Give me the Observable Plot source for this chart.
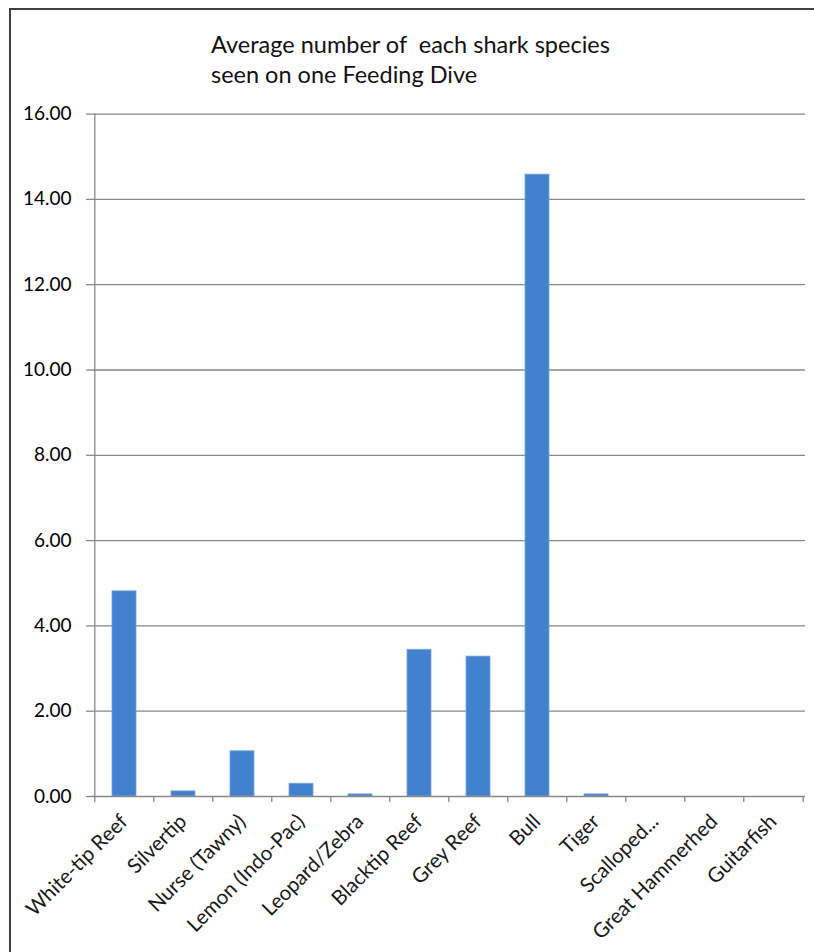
<!DOCTYPE html>
<html>
<head>
<meta charset="utf-8">
<script src="https://cdn.jsdelivr.net/npm/d3@7"></script>
<script src="https://cdn.jsdelivr.net/npm/@observablehq/plot@0.6"></script>
<style>
  html, body { margin: 0; padding: 0; background: #fff; overflow: hidden; }
  body { width: 814px; height: 952px; position: relative; font-family: Lato, "Liberation Sans", sans-serif; }
  #frame { position: absolute; left: 9px; top: 8px; width: 805px; height: 944px;
           border-left: 2px solid #404040; border-top: 2px solid #404040; box-sizing: border-box; }
  #title { position: absolute; left: 211px; top: 29px; font-size: 23.5px; line-height: 30px; color: #111; white-space: pre; }
  #chart { position: absolute; left: 0; top: 95px; }
</style>
</head>
<body>
<div id="frame"></div>
<div id="title">Average number of  each shark species
seen on one Feeding Dive</div>
<div id="chart"></div>
<script>
// Shark species counted on the feeding dives, and the average seen per dive
const species = [
  "White-tip Reef", "Silvertip", "Nurse (Tawny)", "Lemon (Indo-Pac)",
  "Leopard/Zebra", "Blacktip Reef", "Grey Reef", "Bull", "Tiger",
  "Scalloped...", "Great Hammerhed", "Guitarfish"
];
const averages = [4.81, 0.12, 1.06, 0.30, 0.05, 3.44, 3.28, 14.58, 0.05, 0, 0, 0];
const yTicks = [0, 2, 4, 6, 8, 10, 12, 14, 16];

const rows = species.map((s, i) => ({species: s, avg: averages[i]}));

const width = 814, height = 857;
const marginLeft = 92, marginRight = 9, marginTop = 18.6, marginBottom = 156;
const step = (width - marginLeft - marginRight) / species.length;
const axisGrey = "#878787";

const chart = Plot.plot({
  width, height, marginLeft, marginRight, marginTop, marginBottom,
  style: {background: "transparent", fontFamily: "Lato, 'Liberation Sans', sans-serif"},
  x: {type: "band", domain: species, paddingInner: 0.6, paddingOuter: 0.3, axis: null, label: null},
  y: {domain: [0, 16], axis: null, label: null},
  marks: [
    // horizontal gridlines
    Plot.gridY(yTicks.slice(1), {stroke: axisGrey, strokeOpacity: 1, strokeWidth: 1.3}),
    // bars
    Plot.barY(rows, {x: "species", y: "avg", fill: "#4281cd", stroke: "#79a5de", strokeWidth: 0.8}),
    // value axis line and baseline
    Plot.ruleX([species[0]], {x: d => d, y1: 0, y2: 16, dx: -step / 2, stroke: axisGrey, strokeWidth: 1.3}),
    Plot.ruleY([0], {stroke: axisGrey, strokeWidth: 1.3}),
    // value axis ticks and labels
    Plot.axisY(yTicks, {
      label: null, tickSize: 6, tickPadding: 15, stroke: axisGrey, strokeWidth: 1.3,
      tickFormat: d => d.toFixed(2), fontSize: 19, fill: "#000"
    }),
    // category tick marks sit between the bars
    Plot.axisX(species, {label: null, tickSize: 6, tickFormat: () => "", dx: -step / 2, stroke: axisGrey, strokeWidth: 1.3}),
    Plot.axisX([species[species.length - 1]], {label: null, tickSize: 6, tickFormat: () => "", dx: step / 2, stroke: axisGrey, strokeWidth: 1.3}),
    // rotated category labels
    Plot.text(rows, {
      x: "species", text: "species", frameAnchor: "bottom",
      rotate: -45, textAnchor: "end", lineAnchor: "top",
      dx: -6, dy: 16, fontSize: 20.5, fill: "#1a1a1a"
    })
  ]
});

document.getElementById("chart").appendChild(chart);
</script>
</body>
</html>
